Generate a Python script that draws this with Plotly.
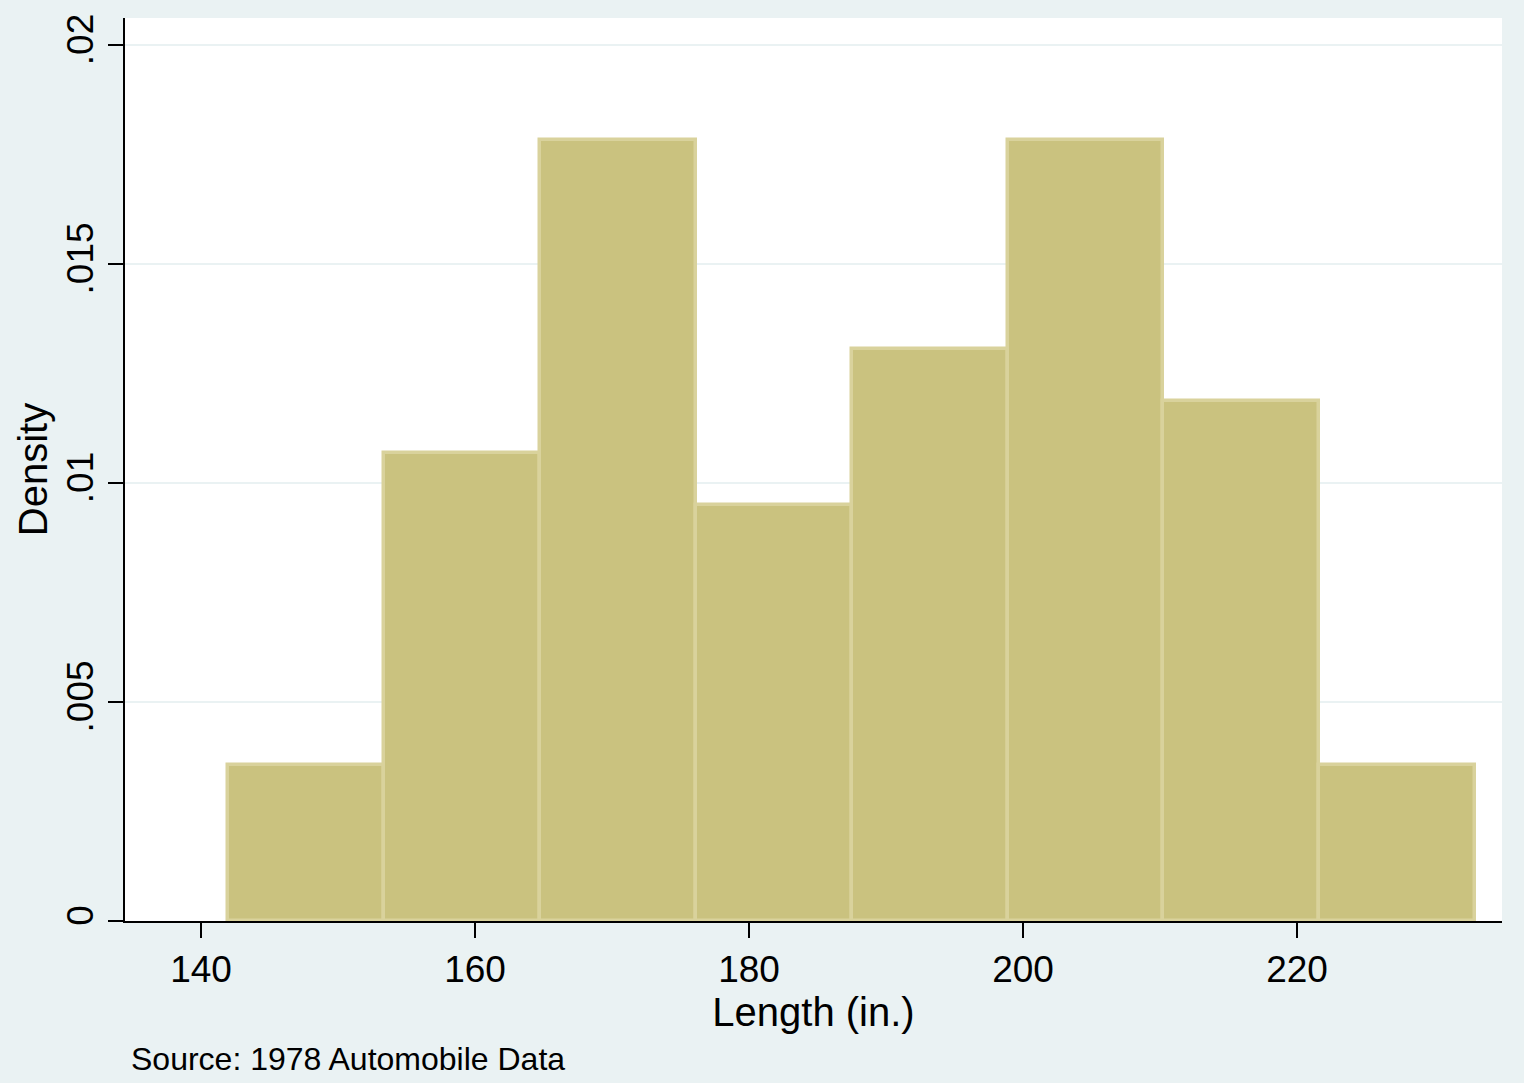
import plotly.graph_objects as go

# Histogram of car length (1978 Automobile Data), 8 bins from 142 to 233
bin_start = 142.0
bin_width = 11.375
densities = [0.003564, 0.010692, 0.017820, 0.009504, 0.013068, 0.017820, 0.011880, 0.003564]
bin_centers = [bin_start + bin_width * (i + 0.5) for i in range(len(densities))]

y_tickvals = [0, 0.005, 0.01, 0.015, 0.02]
y_ticktext = ["0", ".005", ".01", ".015", ".02"]
x_tickvals = [140, 160, 180, 200, 220]

fig = go.Figure()
fig.add_trace(go.Bar(
    x=bin_centers, y=densities, width=[bin_width] * len(densities),
    marker=dict(color="#CAC27F", line=dict(color="#D9D29C", width=3.5)),
))

font = "Liberation Sans, Arial, sans-serif"
fig.update_layout(
    width=1524, height=1083,
    margin=dict(l=125, r=22, t=18, b=162),
    paper_bgcolor="#EAF2F3", plot_bgcolor="#FFFFFF",
    showlegend=False, bargap=0,
    font=dict(family=font, color="#000000"),
    xaxis=dict(
        range=[134.45, 234.96], tickvals=x_tickvals,
        ticks="outside", ticklen=15, tickwidth=2, tickcolor="#000000",
        showline=True, linecolor="#000000", linewidth=2,
        showgrid=False, zeroline=False,
        tickfont=dict(size=37, family=font),
        title=dict(text="Length (in.)", font=dict(size=40, family=font), standoff=3),
    ),
    yaxis=dict(
        range=[0, 0.020616], tickvals=y_tickvals, ticktext=y_ticktext,
        tickangle=-90,
        ticks="outside", ticklen=15, tickwidth=2, tickcolor="#000000",
        showline=True, linecolor="#000000", linewidth=2,
        showgrid=True, gridcolor="#EAF2F3", gridwidth=2, zeroline=False,
        tickfont=dict(size=37, family=font),
        title=dict(text="Density", font=dict(size=40, family=font), standoff=0),
    ),
    annotations=[dict(
        text="Source: 1978 Automobile Data", xref="paper", yref="paper",
        x=(129 - 125) / 1377, y=-(1059 - 921) / 903, xanchor="left", yanchor="middle",
        showarrow=False, font=dict(size=32, family=font),
    )],
)

fig.write_html("out.html")
